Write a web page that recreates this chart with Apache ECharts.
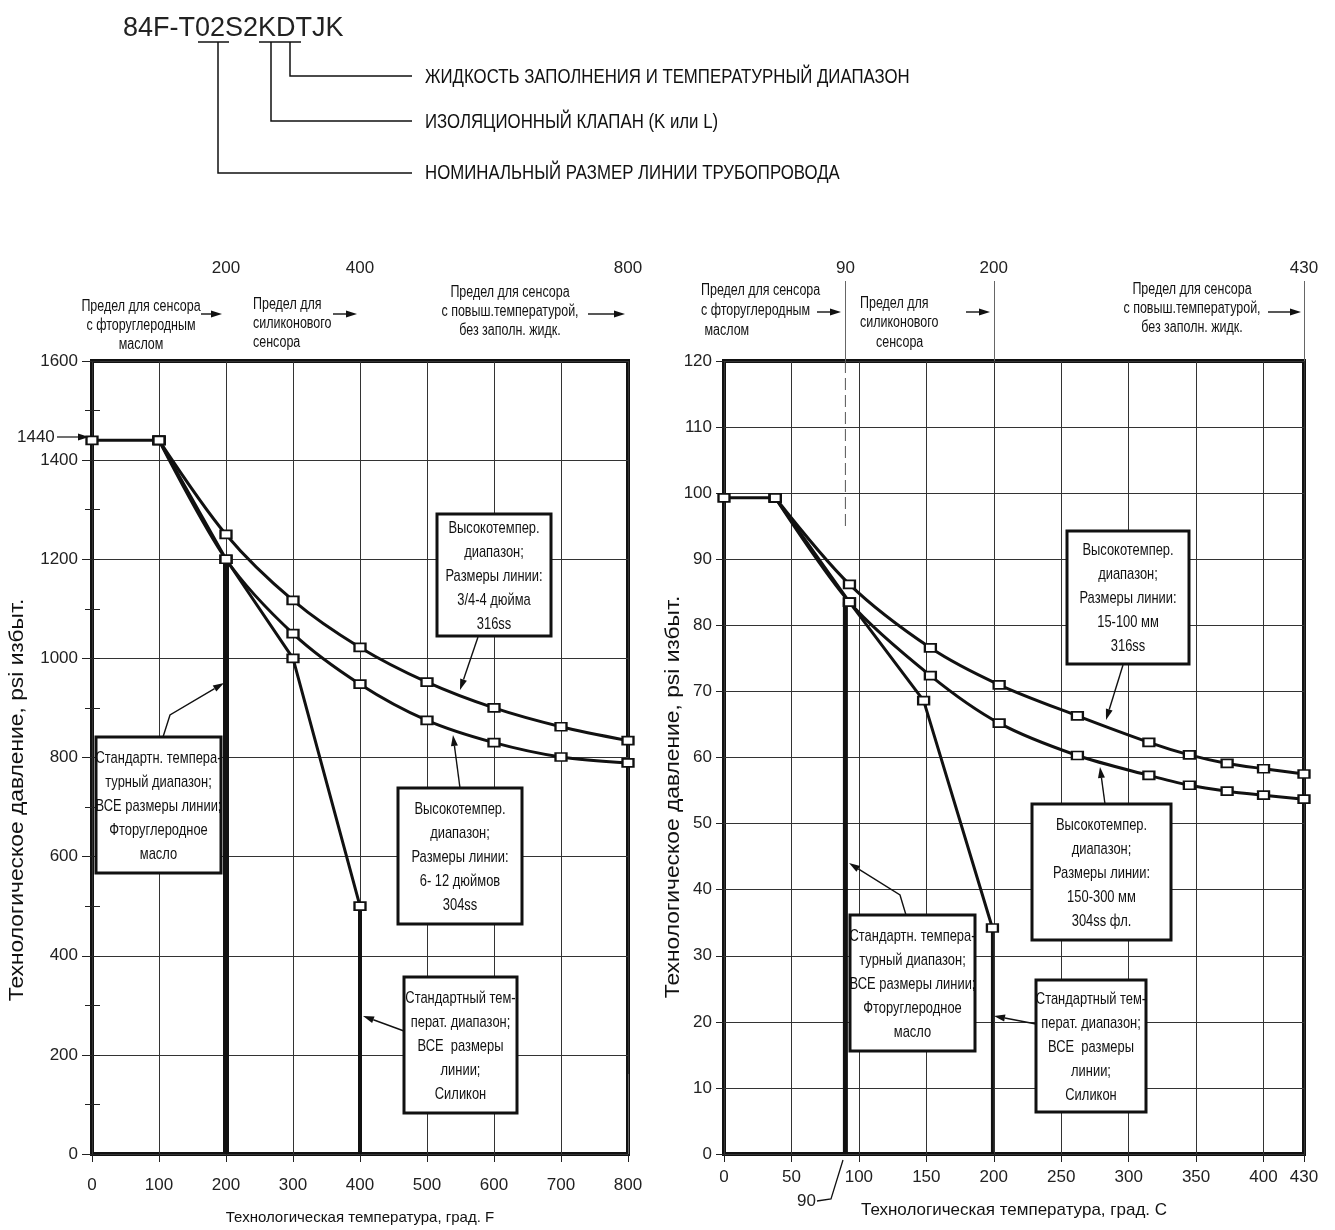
<!DOCTYPE html>
<html>
<head>
<meta charset="utf-8">
<script src="https://cdn.jsdelivr.net/npm/echarts@6/dist/echarts.min.js"></script>
<style>
  html, body { margin: 0; padding: 0; background: #fff; }
  #chart { width: 1335px; height: 1230px; }
</style>
</head>
<body>
<div id="chart"></div>
<script>
// ---- Left chart: process temperature, °F  /  pressure, psi ----
const plateauTempF = [0, 100];
const plateauPsi = [1440, 1440];
const htTempF = [100, 200, 300, 400, 500, 600, 700, 800];
const htSmallPsi = [1440, 1250, 1117, 1022, 952, 900, 862, 834];   // 3/4–4 in, 316ss
const htLargePsi = [1440, 1200, 1050, 948, 875, 830, 801, 789];    // 6–12 in, 304ss
const siliconeTempF = [100, 200, 300, 400];
const siliconePsi = [1440, 1200, 1000, 500];
const fluoroLimitF = 200, fluoroLimitPsi = 1200;
const siliconeLimitF = 400;
const topTicksF = [200, 400, 800];

// ---- Right chart: process temperature, °C ----
const plateauTempC = [0, 38];
const plateauBar = [99.3, 99.3];
const htTempC = [38, 93, 153, 204, 262, 315, 345, 373, 400, 430];
const htSmallBar = [99.3, 86.2, 76.6, 71.0, 66.3, 62.3, 60.4, 59.1, 58.3, 57.5];   // 15–100 mm, 316ss
const htLargeBar = [99.3, 83.5, 72.4, 65.2, 60.3, 57.3, 55.8, 54.9, 54.3, 53.7];   // 150–300 mm, 304ss
const siliconeTempC = [38, 93, 148, 199];
const siliconeBar = [99.3, 83.5, 68.6, 34.2];
const fluoroLimitC = 90, fluoroLimitBar = 83.5;
const siliconeLimitC = 199;
const topTicksC = [90, 200, 430];

const pressureTitle = 'Технологическое давление, psi избыт.';

const ink = '#111';
const FA = "'Liberation Sans',Arial,sans-serif";

const zip = (xs, ys) => xs.map((x, i) => [x, ys[i]]);

function curve(data, xi, yi, extra) {
  return Object.assign({
    type: 'line', data, xAxisIndex: xi, yAxisIndex: yi,
    symbol: 'rect', symbolSize: [11, 8], showSymbol: true, clip: false,
    itemStyle: { color: '#fff', borderColor: ink, borderWidth: 2 },
    lineStyle: { color: ink, width: 3 }, z: 5, silent: true
  }, extra || {});
}
function drop(data, xi, yi, width) {
  return { type: 'line', data, xAxisIndex: xi, yAxisIndex: yi, symbol: 'none', clip: false,
    lineStyle: { color: ink, width }, z: 4, silent: true };
}

// ---- annotation helpers ----
// Condensed lettering is obtained by squeezing the text horizontally (sx).
function txt(x, y, str, o, sx, rot) {
  const s = Object.assign({ text: str, fill: ink, font: '16px ' + FA,
    align: 'left', verticalAlign: 'middle' }, o || {});
  s.textAlign = s.align;
  s.textVerticalAlign = s.verticalAlign;
  return { type: 'text', x, y, scaleX: sx || 1, rotation: rot || 0, style: s, z: 30, silent: true };
}
function arrow(pts, lw) {
  const [x1, y1] = pts[pts.length - 2], [x2, y2] = pts[pts.length - 1];
  const a = Math.atan2(y2 - y1, x2 - x1), L = 11, W = 3.5;
  const bx = x2 - L * Math.cos(a), by = y2 - L * Math.sin(a);
  const nx = -Math.sin(a) * W, ny = Math.cos(a) * W;
  const line = pts.slice(0, -1).concat([[bx, by]]);
  return [
    { type: 'polyline', shape: { points: line }, style: { stroke: ink, lineWidth: lw || 1.4, fill: null }, z: 30, silent: true },
    { type: 'polygon', shape: { points: [[x2, y2], [bx + nx, by + ny], [bx - nx, by - ny]] }, style: { fill: ink }, z: 30, silent: true }
  ];
}
function box(x, y, w, h, lines) {
  return [
    { type: 'rect', shape: { x, y, width: w, height: h }, style: { fill: '#fff', stroke: ink, lineWidth: 3 }, z: 28, silent: true },
    txt(x + w / 2, y + h / 2 + 1, lines.join('\n'), { align: 'center', lineHeight: 24, font: '17px ' + FA }, 0.76)
  ];
}
function seg(pts, lw) {
  return { type: 'polyline', shape: { points: pts }, style: { stroke: ink, lineWidth: lw || 1.5, fill: null }, z: 30, silent: true };
}

const htSmallTextF = ['Высокотемпер.', 'диапазон;', 'Размеры линии:', '3/4-4 дюйма', '316ss'];
const htLargeTextF = ['Высокотемпер.', 'диапазон;', 'Размеры линии:', '6- 12 дюймов', '304ss'];
const htSmallTextC = ['Высокотемпер.', 'диапазон;', 'Размеры линии:', '15-100 мм', '316ss'];
const htLargeTextC = ['Высокотемпер.', 'диапазон;', 'Размеры линии:', '150-300 мм', '304ss фл.'];
const fluoroText = ['Стандартн. темпера-', 'турный диапазон;', 'ВСЕ размеры линии;', 'Фторуглеродное', 'масло'];
const siliconeText = ['Стандартный тем-', 'перат. диапазон;', 'ВСЕ  размеры', 'линии;', 'Силикон'];

const HS = 0.78;   // squeeze for the limit headings
const graphics = [].concat(
  // model code breakdown
  txt(123, 29, '84F-T02S2KDTJK', { font: '27px ' + FA, fill: '#222' }),
  seg([[198, 42], [229, 42]], 1.5),
  seg([[259, 42], [301, 42]], 1.5),
  seg([[290, 42], [290, 76], [412, 76]]),
  seg([[271, 42], [271, 121], [412, 121]]),
  seg([[218, 42], [218, 173], [412, 173]]),
  txt(425, 77, 'ЖИДКОСТЬ ЗАПОЛНЕНИЯ И ТЕМПЕРАТУРНЫЙ ДИАПАЗОН', { font: '21px ' + FA }, 0.8),
  txt(425, 122, 'ИЗОЛЯЦИОННЫЙ КЛАПАН (K или L)', { font: '21px ' + FA }, 0.8),
  txt(425, 173, 'НОМИНАЛЬНЫЙ РАЗМЕР ЛИНИИ ТРУБОПРОВОДА', { font: '21px ' + FA }, 0.8),

  // pressure axis titles
  txt(17, 800, pressureTitle, { align: 'center', font: '20px ' + FA }, 1.14, Math.PI / 2),
  txt(673, 797, pressureTitle, { align: 'center', font: '20px ' + FA }, 1.14, Math.PI / 2),

  // sensor limits, °F
  txt(141, 326, 'Предел для сенсора\nс фторуглеродным\nмаслом', { align: 'center', lineHeight: 19 }, HS),
  arrow([[201, 314], [222, 314]]),
  txt(253, 324, 'Предел для\nсиликонового\nсенсора', { lineHeight: 19 }, HS),
  arrow([[333, 314], [357, 314]]),
  txt(510, 312, 'Предел для сенсора\nс повыш.температурой,\nбез заполн. жидк.', { align: 'center', lineHeight: 19 }, HS),
  arrow([[588, 314], [625, 314]]),

  // sensor limits, °C
  txt(701, 311, 'Предел для сенсора\nс фторуглеродным\n маслом', { lineHeight: 20 }, HS),
  arrow([[817, 312], [841, 312]]),
  txt(860, 304, 'Предел для', null, HS),
  txt(860, 323, 'силиконового', null, HS),
  txt(876, 343, 'сенсора', null, HS),
  arrow([[966, 312], [990, 312]]),
  txt(1192, 309, 'Предел для сенсора\nс повыш.температурой,\nбез заполн. жидк.', { align: 'center', lineHeight: 19 }, HS),
  arrow([[1268, 312], [1301, 312]]),

  // 1440 psi marker
  txt(17, 437, '1440', { font: '17px ' + FA, fill: '#222' }),
  arrow([[57, 437], [89, 437]], 1.2),

  // 90 °C marker under the axis
  txt(797, 1201, '90', { font: '17px ' + FA, fill: '#222' }),
  seg([[817, 1201], [831, 1199], [843, 1160]], 1.3),

  // callouts, °F chart
  box(437, 514, 114, 122, htSmallTextF),
  arrow([[478, 637], [460, 690]]),
  box(398, 788, 124, 136, htLargeTextF),
  arrow([[460, 788], [453, 735]]),
  box(96, 737, 125, 136, fluoroText),
  arrow([[163, 737], [170, 715], [224, 683]]),
  box(404, 977, 113, 136, siliconeText),
  arrow([[404, 1031], [363, 1016]]),

  // callouts, °C chart
  box(1067, 531, 122, 133, htSmallTextC),
  arrow([[1123, 665], [1106, 720]]),
  box(1032, 804, 139, 136, htLargeTextC),
  arrow([[1105, 804], [1100, 767]]),
  box(850, 915, 125, 136, fluoroText),
  arrow([[906, 915], [900, 895], [849, 863]]),
  box(1036, 980, 110, 132, siliconeText),
  arrow([[1036, 1024], [994, 1016]])
);

const plain = v => String(v);
const tickLabel = { fontSize: 17, color: '#222', fontFamily: FA, formatter: plain };
const gridLine = { show: true, lineStyle: { color: '#333', width: 1 } };
const nameStyle = (size) => ({ fontSize: size, color: ink, fontFamily: FA });

const option = {
  animation: false,
  backgroundColor: '#fff',
  grid: [
    { left: 92, top: 361, width: 536, height: 793, show: true, borderColor: ink, borderWidth: 4, backgroundColor: 'transparent' },
    { left: 724, top: 361, width: 580, height: 793, show: true, borderColor: ink, borderWidth: 4, backgroundColor: 'transparent' }
  ],
  xAxis: [
    { gridIndex: 0, type: 'value', min: 0, max: 800, interval: 100, position: 'bottom',
      axisLine: { show: false }, axisTick: { show: true, length: 8, lineStyle: { color: '#222' } },
      axisLabel: Object.assign({ margin: 23 }, tickLabel), splitLine: gridLine,
      name: 'Технологическая температура, град. F', nameLocation: 'middle', nameGap: 56, nameTextStyle: nameStyle(15) },
    { gridIndex: 0, type: 'value', min: 0, max: 800, position: 'top',
      axisLine: { show: false },
      axisTick: { show: true, customValues: topTicksF, length: 80, lineStyle: { color: '#666' } },
      axisLabel: Object.assign({ customValues: topTicksF, margin: 84 }, tickLabel), splitLine: { show: false } },
    { gridIndex: 1, type: 'value', min: 0, max: 430, interval: 50, position: 'bottom',
      axisLine: { show: false }, axisTick: { show: true, length: 8, lineStyle: { color: '#222' } },
      axisLabel: Object.assign({ margin: 15, showMaxLabel: true }, tickLabel), splitLine: gridLine,
      name: 'Технологическая температура, град. С', nameLocation: 'middle', nameGap: 48, nameTextStyle: nameStyle(17) },
    { gridIndex: 1, type: 'value', min: 0, max: 430, position: 'top',
      axisLine: { show: false },
      axisTick: { show: true, customValues: topTicksC, length: 80, lineStyle: { color: '#666' } },
      axisLabel: Object.assign({ customValues: topTicksC, margin: 84 }, tickLabel), splitLine: { show: false } }
  ],
  yAxis: [
    { gridIndex: 0, type: 'value', min: 0, max: 1600, interval: 200, position: 'left',
      axisLine: { show: false }, axisTick: { show: true, length: 10, lineStyle: { color: '#222' } },
      minorTick: { show: true, splitNumber: 2, length: 7, lineStyle: { color: '#222' } },
      axisLabel: Object.assign({ margin: 14 }, tickLabel), splitLine: gridLine },
    { gridIndex: 0, type: 'value', min: 0, max: 1600, interval: 100, position: 'left',
      axisLine: { show: false }, axisTick: { show: true, inside: true, length: 8, lineStyle: { color: '#222' } },
      axisLabel: { show: false }, splitLine: { show: false } },
    { gridIndex: 1, type: 'value', min: 0, max: 120, interval: 10, position: 'left',
      axisLine: { show: false }, axisTick: { show: true, length: 8, lineStyle: { color: '#222' } },
      axisLabel: Object.assign({ margin: 12 }, tickLabel), splitLine: gridLine }
  ],
  series: [
    // °F chart
    drop([[fluoroLimitF, fluoroLimitPsi], [fluoroLimitF, 0]], 0, 0, 6),
    drop([[siliconeLimitF, siliconePsi[siliconePsi.length - 1]], [siliconeLimitF, 0]], 0, 0, 4),
    curve(zip(siliconeTempF, siliconePsi), 0, 0),
    curve(zip(htTempF, htLargePsi), 0, 0, { smooth: 0.3 }),
    curve(zip(htTempF, htSmallPsi), 0, 0, { smooth: 0.3 }),
    curve(zip(plateauTempF, plateauPsi), 0, 0),
    // °C chart
    { type: 'line', data: [[fluoroLimitC, 120], [fluoroLimitC, 95]], xAxisIndex: 2, yAxisIndex: 2, symbol: 'none',
      lineStyle: { color: '#555', width: 1, type: [12, 5] }, z: 3, silent: true },
    drop([[fluoroLimitC, fluoroLimitBar], [fluoroLimitC, 0]], 2, 2, 5),
    drop([[siliconeLimitC, siliconeBar[siliconeBar.length - 1]], [siliconeLimitC, 0]], 2, 2, 3),
    curve(zip(siliconeTempC, siliconeBar), 2, 2),
    curve(zip(htTempC, htLargeBar), 2, 2, { smooth: 0.3 }),
    curve(zip(htTempC, htSmallBar), 2, 2, { smooth: 0.3 }),
    curve(zip(plateauTempC, plateauBar), 2, 2)
  ],
  graphic: { elements: graphics }
};

const chart = echarts.init(document.getElementById('chart'), null, { renderer: 'canvas' });
chart.setOption(option);
</script>
</body>
</html>
